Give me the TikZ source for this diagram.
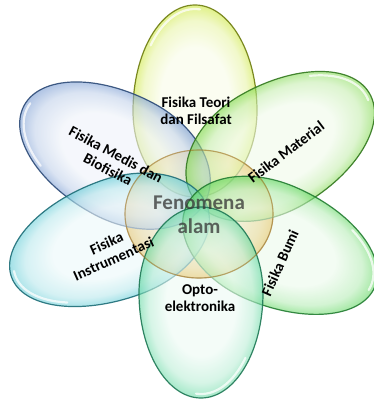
\documentclass[tikz,border=0pt]{standalone}
\usepackage{fontspec}
\setmainfont{Carlito}
\pgfdeclareradialshading[pcin,pcmid,pcout]{petal}{\pgfpoint{0bp}{0bp}}{color(0bp)=(pcin); color(14bp)=(pcin); color(21bp)=(pcmid); color(25bp)=(pcout); color(50bp)=(pcout)}
\definecolor{cYel}{RGB}{205,232,60}\definecolor{bYel}{RGB}{110,125,15}
\definecolor{cBlu}{RGB}{120,155,210}\definecolor{bBlu}{RGB}{45,75,120}
\definecolor{cGr1}{RGB}{130,218,80}\definecolor{bGr1}{RGB}{50,120,30}
\definecolor{cCya}{RGB}{100,205,215}\definecolor{bCya}{RGB}{30,110,120}
\definecolor{cGr2}{RGB}{95,215,95}\definecolor{bGr2}{RGB}{35,125,50}
\definecolor{cTea}{RGB}{105,218,165}\definecolor{bTea}{RGB}{30,120,85}
\definecolor{cOra}{RGB}{236,172,40}\definecolor{bOra}{RGB}{160,112,25}
\newcommand\petalpath[3]{(#1,#3) arc[start angle=90,end angle=270,x radius=#1,y radius=#3] arc[start angle=-90,end angle=90,x radius=#2,y radius=#3] -- cycle}
% Ix Iy angle a1 a2 b fill border
\newcommand\drawpetal[8]{%
  \colorlet{pcin}{#7!12!white}\colorlet{pcmid}{#7!45!white}\colorlet{pcout}{#7}%
  \begin{scope}[transform canvas={shift={(#1,#2)},rotate=#3}]
    \shade[shading=petal, fill opacity=0.6] \petalpath{#4}{#5}{#6};
    \draw[white, line width=2.2pt, draw opacity=0.75, line cap=round]
      ([shift={(-50:{#5-4} and {#6-4})}]#4,0) arc[start angle=-50,end angle=5,x radius={#5-4},y radius={#6-4}];
    \draw[#8, line width=1.2pt, draw opacity=0.9] \petalpath{#4}{#5}{#6};
  \end{scope}}
\tikzset{lab/.style={font=\fontsize{15}{17}\selectfont\bfseries, align=center, text=black, inner sep=0pt},
  big/.style={font=\fontsize{21}{24}\selectfont\bfseries, align=center, text=black!80, text opacity=0.75, inner sep=0pt}}
\begin{document}
\begin{tikzpicture}[x=1pt,y=-1pt]
\useasboundingbox (0,0) rectangle (374,401);
\fill[white] (0,0) rectangle (374,401);
% central circle
\colorlet{pcin}{cOra!35!white}\colorlet{pcmid}{cOra!65!white}\colorlet{pcout}{cOra}
\shade[shading=petal, fill opacity=0.95] (199,214) ellipse (74 and 64);
\draw[bOra, line width=1.2pt] (199,214) ellipse (74 and 64);
% petals
\drawpetal{195}{197}{90}{86}{106}{62}{cYel}{bYel}
\drawpetal{205}{202}{152}{92}{113}{63}{cBlu}{bBlu}
\drawpetal{192}{196}{30}{92}{113}{63}{cGr1}{bGr1}
\drawpetal{207}{206}{200}{93}{115}{60}{cCya}{bCya}
\drawpetal{186}{207}{-23}{92}{113}{61}{cGr2}{bGr2}
\drawpetal{201}{207}{-90}{86}{105}{62}{cTea}{bTea}
\draw[bOra, line width=1.1pt, draw opacity=0.55] (199,214) ellipse (74 and 64);
\node[big] (fen) at (199,215) {Fenomena\\alam};
% labels
\node[lab] (teori) at (196,111) {Fisika Teori\\dan Filsafat};
\node[lab, rotate=-28] (medis) at (112,162) {Fisika Medis dan\\Biofisika};
\node[lab, rotate=37] (mat) at (286,152) {Fisika Material};
\node[lab, rotate=24] (instr) at (110,251) {Fisika\\Instrumentasi};
\node[lab, rotate=66] (bumi) at (280,263) {Fisika Bumi};
\node[lab] (opto) at (200,298) {Opto-\\elektronika};
\end{tikzpicture}
\end{document}
